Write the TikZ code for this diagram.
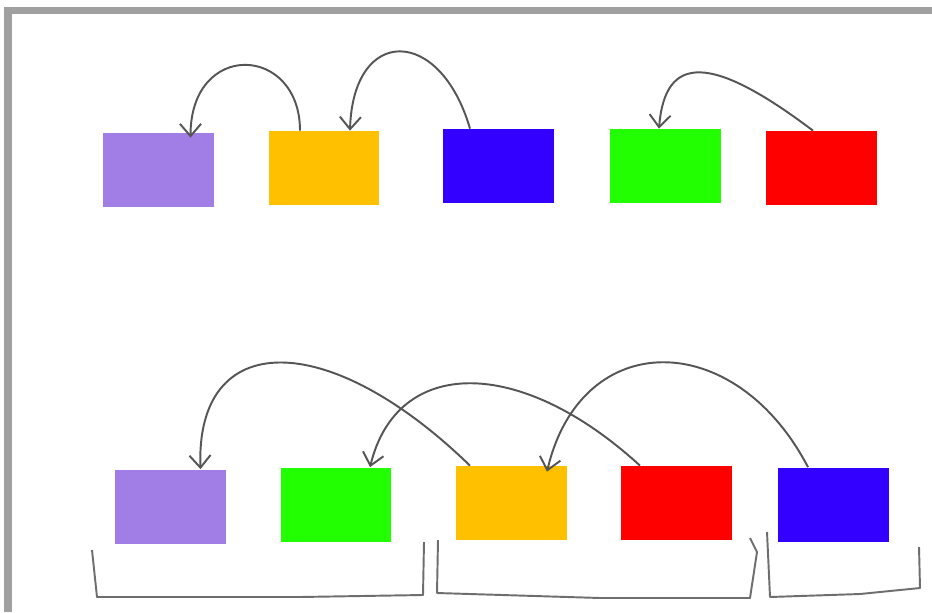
\documentclass[tikz,border=0pt]{standalone}
\usepackage{xcolor}
\definecolor{boxpurple}{RGB}{160,126,230}
\definecolor{boxyellow}{RGB}{255,192,0}
\definecolor{boxblue}{RGB}{51,0,255}
\definecolor{boxgreen}{RGB}{34,255,0}
\definecolor{boxred}{RGB}{255,0,0}
\definecolor{framegray}{RGB}{160,160,160}
\definecolor{pengray}{RGB}{85,85,85}
\usetikzlibrary{arrows.meta,calc}

\begin{document}
\begin{tikzpicture}[x=0.02cm,y=-0.02cm,
  blk/.style={minimum width=2.22cm,minimum height=1.48cm,inner sep=0pt},
  hop/.style={pengray,line width=1.1pt,-{Straight Barb[length=7pt,width=12pt]}},
  brace/.style={pengray!85,line width=1.1pt,line join=round}]
  %% canvas and window frame
  \fill[white] (0,0) rectangle (932,612);
  \useasboundingbox (0,0) rectangle (932,612);
  \fill[framegray] (4,7) rectangle (932,14);
  \fill[framegray] (4,7) rectangle (12,612);

  %% top row
  \node[blk,fill=boxpurple] (pa) at (158.5,170) {};
  \node[blk,fill=boxyellow] (pb) at (324,168) {};
  \node[blk,fill=boxblue]   (pc) at (498.5,166) {};
  \node[blk,fill=boxgreen]  (pd) at (665,166) {};
  \node[blk,fill=boxred]    (pe) at (821,168) {};

  %% bottom row
  \node[blk,fill=boxpurple] (qa) at (170.5,506.5) {};
  \node[blk,fill=boxgreen]  (qb) at (336,504.5) {};
  \node[blk,fill=boxyellow] (qc) at (511.5,503) {};
  \node[blk,fill=boxred]    (qd) at (676.5,503) {};
  \node[blk,fill=boxblue]   (qe) at (833,504.5) {};

  %% top row arrows
  \draw[hop] ($(pb.north)+(-24,0)$) .. controls +(0,-86) and +(0,-98) .. ($(pa.north)+(32,5)$);
  \draw[hop] ($(pc.north)+(-28.5,0)$) .. controls +(-30,-103) and +(3,-105) .. ($(pb.north)+(26,0)$);
  \draw[hop] ($(pe.north)+(-8,0)$) .. controls +(-102,-77) and +(6,-75) .. ($(pd.north)+(-6,0)$);

  %% bottom row arrows
  \draw[hop] ($(qc.north)+(-41.5,0)$) .. controls +(-142,-138) and +(-5,-141) .. ($(qa.north)+(30,0)$);
  \draw[hop] ($(qd.north)+(-36.5,0)$) .. controls +(-120,-110) and +(27,-111) .. ($(qb.north)+(34,0)$);
  \draw[hop] ($(qe.north)+(-25,0)$) .. controls +(-73,-140) and +(34,-145) .. ($(qc.north)+(35.5,6)$);

  %% group brackets
  \draw[brace] (92,550) -- (97,597) -- (300,597) -- (423,595) -- (424,542);
  \draw[brace] (438,540) -- (437,593) -- (600,598) -- (750,598) -- (757,552) -- (750,538);
  \draw[brace] (767,532) -- (770,597) -- (860,594) -- (920,588) -- (919,547);
\end{tikzpicture}
\end{document}
